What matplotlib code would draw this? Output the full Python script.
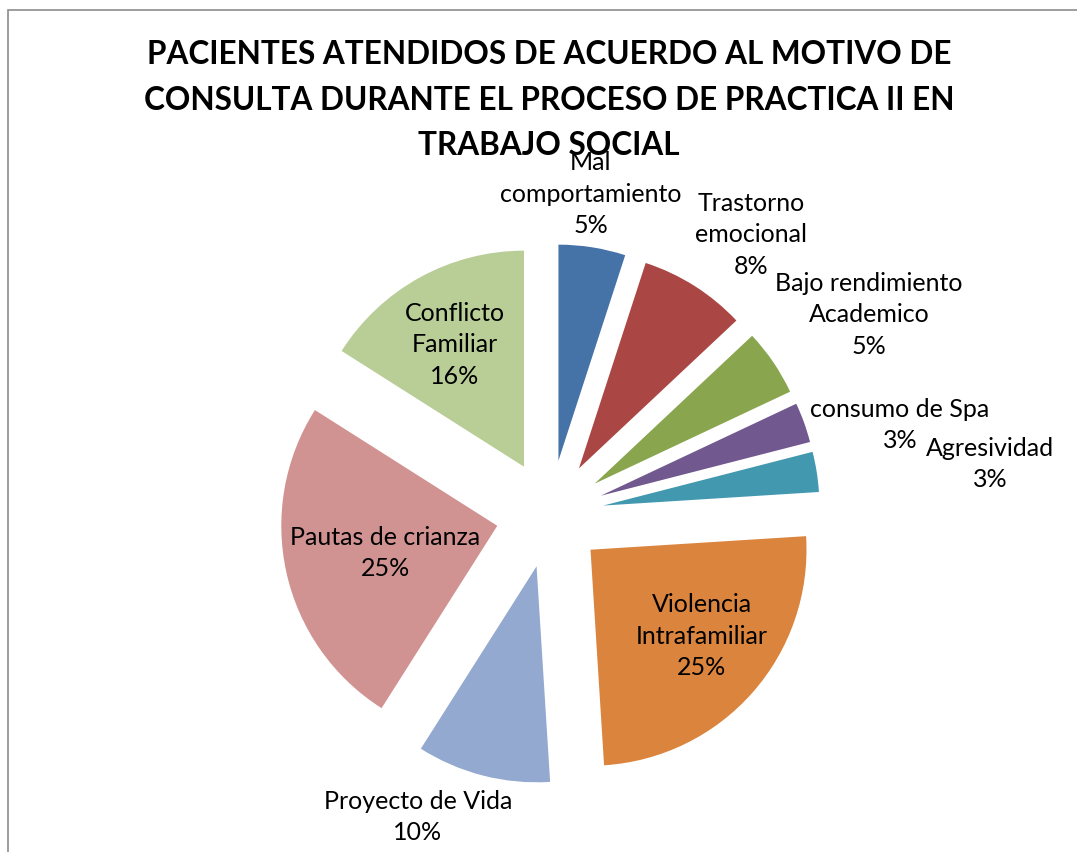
import matplotlib
matplotlib.use("Agg")
import matplotlib.pyplot as plt
from matplotlib.patches import Rectangle

# data
categories = ["Mal\ncomportamiento", "Trastorno\nemocional", "Bajo rendimiento\nAcademico",
              "consumo de Spa", "Agresividad", "Violencia\nIntrafamiliar",
              "Proyecto de Vida", "Pautas de crianza", "Conflicto\nFamiliar"]
percentages = [5, 8, 5, 3, 3, 25, 10, 25, 16]
colors = ["#4572A7", "#AA4643", "#89A54E", "#71588F", "#4198AF",
          "#DB843D", "#93A9CF", "#D19392", "#B9CD96"]

title = ("PACIENTES ATENDIDOS DE ACUERDO AL MOTIVO DE\n"
         "CONSULTA DURANTE EL PROCESO DE PRACTICA II EN\n"
         "TRABAJO SOCIAL")

# label centres in pixels (x, y from top)
label_pos = [(591, 194), (751, 235), (869, 315), (900, 425), (990, 464),
             (702, 636), (418, 817), (385, 553), (455, 345)]

W, H = 1077, 852
cx, cy, R = 550, 514, 216   # pie centre and radius in pixels

fig = plt.figure(figsize=(W / 100, H / 100), dpi=100)
fig.patch.set_facecolor("white")

# chart frame (runs off the right and bottom edges)
fig.patches.append(Rectangle((8 / W, -0.1), 1.2, 1 - 10 / H + 0.1,
                             transform=fig.transFigure, fill=False,
                             edgecolor="#8c8c8c", linewidth=1.2))

ax = fig.add_axes([0, 0, 1, 1])
ax.pie(percentages, explode=[0.25] * len(percentages), startangle=90,
       counterclock=False, colors=colors, radius=1,
       wedgeprops=dict(linewidth=0))
ax.set_aspect("auto")
ax.set_xlim(-cx / R, (W - cx) / R)
ax.set_ylim(-(H - cy) / R, cy / R)
ax.axis("off")

font = "Lato"
for name, pct, (px, py) in zip(categories, percentages, label_pos):
    fig.text(px / W, 1 - py / H, f"{name}\n{pct}%", ha="center", va="center",
             fontsize=18, family=font, linespacing=1.47, color="black")

fig.text(549 / W, 1 - 100 / H, title, ha="center", va="center",
         fontsize=22.7, fontweight="bold", family=font, linespacing=1.7,
         color="black", zorder=5)

fig.savefig("out.png", dpi=100)
